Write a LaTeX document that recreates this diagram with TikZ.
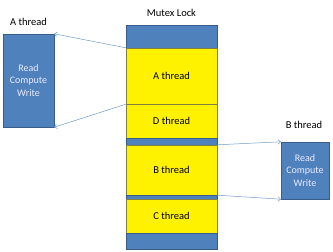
\documentclass[tikz,border=0pt]{standalone}
\usepackage{fontspec}
\setmainfont{Carlito}
\usetikzlibrary{arrows.meta}
\definecolor{offblue}{HTML}{4F81BD}
\definecolor{offedge}{HTML}{385D8A}
\definecolor{lockedge}{HTML}{7F7F3F}
\begin{document}
\begin{tikzpicture}[x=1pt,y=-1pt,
  every node/.style={inner sep=0pt,font=\fontsize{10.5}{12}\selectfont},
  slot/.style={draw=lockedge,fill=yellow,minimum width=91pt},
  band/.style={draw=offedge,fill=offblue,minimum width=91pt},
  work/.style={draw=offedge,fill=offblue,text=blue!8,align=center,
    font=\fontsize{10}{12.5}\selectfont},
  link/.style={draw=offblue!80,line width=0.5pt,-{To[length=3pt,width=5pt]}}]
\useasboundingbox (0,0) rectangle (333,252);
% mutex lock column
\node (top) at (171.5,36.5) [band,minimum height=23pt] {};
\node (sa) at (171.5,76) [slot,minimum height=56pt] {A thread};
\node (sd) at (171.5,121) [slot,minimum height=34pt] {D thread};
\node (g1) at (171.5,141.5) [band,minimum height=7pt] {};
\node (sb) at (171.5,170) [slot,minimum height=50pt] {B thread};
\node (g2) at (171.5,197) [band,minimum height=4pt] {};
\node (sc) at (171.5,216) [slot,minimum height=34pt] {C thread};
\node (bot) at (171.5,241) [band,minimum height=16pt] {};
\node (lock) at (171.5,13) {Mutex Lock};
% the two threads
\node (ta) at (28.5,80.5) [work,minimum width=51pt,minimum height=93pt] {Read\\Compute\\Write};
\node (la) at (28.5,22) {A thread};
\node (tb) at (305,170.5) [work,minimum width=48pt,minimum height=57pt] {Read\\Compute\\Write};
\node (lb) at (304,125) {B thread};
\draw[link] (sa.north west) -- (ta.north east);
\draw[link] (sa.south west) -- (ta.south east);
\draw[link] (sb.north east) -- (tb.north west);
\draw[link] (sb.south east) -- (tb.south west);
\end{tikzpicture}
\end{document}
